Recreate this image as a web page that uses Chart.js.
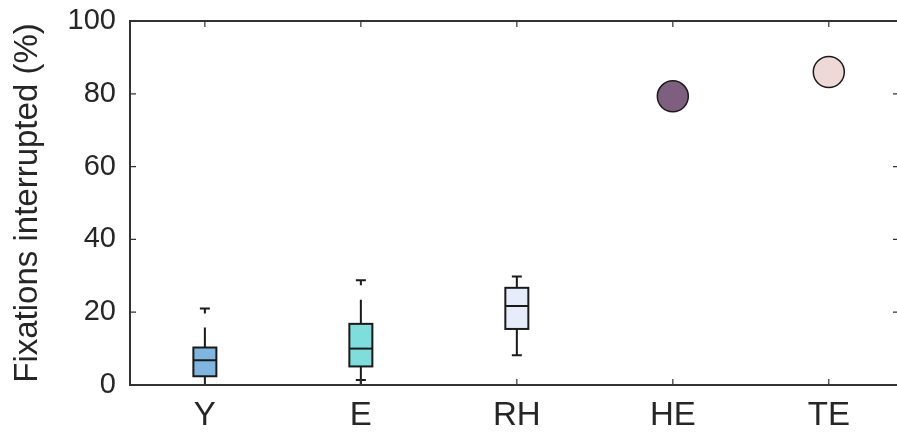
<!DOCTYPE html>
<html>
<head>
<meta charset="utf-8">
<script src="https://cdn.jsdelivr.net/npm/chart.js@4.4.1/dist/chart.umd.min.js"></script>
<style>
    html, body { margin: 0; padding: 0; overflow: hidden; background: #fff; }
    #wrap { width: 897px; height: 434px; overflow: hidden; }
    canvas { display: block; }
</style>
</head>
<body>
<div id="wrap"><canvas id="chart" width="916" height="434"></canvas></div>
<script>
// categories and their positions on the x scale
const categories = ['Y', 'E', 'RH', 'HE', 'TE'];
const positions = [1, 2, 3, 4, 5];

// box plot groups (Y, E, RH)
const boxLabels = ['Y', 'E', 'RH'];
const whiskerLow = [0, 0, 8.2];
const q1 = [2.4, 5.1, 15.4];
const median = [6.8, 10.0, 21.7];
const q3 = [10.3, 16.8, 26.7];
const whiskerHigh = [15.8, 23.4, 29.8];
const outliers = [[21.0], [28.8, 1.4], []];
const boxColors = ['#7eb6e0', '#7fdedb', '#e6ecfa'];

// single values (HE, TE)
const pointLabels = ['HE', 'TE'];
const pointValues = [79.3, 86.0];
const pointColors = ['#7f5f80', '#efd8d8'];

const yTicks = [0, 20, 40, 60, 80, 100];

const axisColor = '#333333';
const fontFamily = '"Liberation Sans", Arial, Helvetica, sans-serif';

const boxPlugin = {
    id: 'boxes',
    afterDatasetsDraw(chart) {
        const ctx = chart.ctx;
        const x = chart.scales.x;
        const y = chart.scales.y;
        const halfW = 11.5;
        ctx.save();
        ctx.strokeStyle = '#1a1a1a';
        ctx.lineWidth = 2;
        boxLabels.forEach((lab, i) => {
            const cx = x.getPixelForValue(positions[categories.indexOf(lab)]);
            const yq1 = y.getPixelForValue(q1[i]);
            const yq3 = y.getPixelForValue(q3[i]);
            const ymed = y.getPixelForValue(median[i]);
            const ylo = y.getPixelForValue(whiskerLow[i]);
            const yhi = y.getPixelForValue(whiskerHigh[i]);
            // whiskers
            ctx.beginPath();
            ctx.moveTo(cx, yq3); ctx.lineTo(cx, yhi);
            ctx.moveTo(cx, yq1); ctx.lineTo(cx, ylo);
            ctx.moveTo(cx - 5, ylo); ctx.lineTo(cx + 5, ylo);
            if (lab === 'RH') { ctx.moveTo(cx - 5, yhi); ctx.lineTo(cx + 5, yhi); }
            ctx.stroke();
            // box
            ctx.fillStyle = boxColors[i];
            ctx.fillRect(cx - halfW, yq3, halfW * 2, yq1 - yq3);
            ctx.strokeRect(cx - halfW, yq3, halfW * 2, yq1 - yq3);
            ctx.beginPath();
            ctx.moveTo(cx - halfW, ymed); ctx.lineTo(cx + halfW, ymed);
            ctx.stroke();
            // outliers
            outliers[i].forEach(v => {
                const oy = y.getPixelForValue(v);
                ctx.beginPath();
                ctx.moveTo(cx - 5, oy); ctx.lineTo(cx + 5, oy);
                ctx.moveTo(cx, oy); ctx.lineTo(cx, oy + 5);
                ctx.stroke();
            });
        });
        ctx.restore();
    },
    afterDraw(chart) {
        const ctx = chart.ctx;
        const a = chart.chartArea;
        const x = chart.scales.x;
        const y = chart.scales.y;
        ctx.save();
        ctx.strokeStyle = axisColor;
        ctx.lineWidth = 2;
        ctx.strokeRect(a.left, a.top, a.right - a.left, a.bottom - a.top);
        ctx.lineWidth = 1.2;
        ctx.beginPath();
        yTicks.forEach(v => {
            const py = y.getPixelForValue(v);
            ctx.moveTo(a.left, py); ctx.lineTo(a.left + 6, py);
            ctx.moveTo(a.right, py); ctx.lineTo(a.right - 6, py);
        });
        positions.forEach(v => {
            const px = x.getPixelForValue(v);
            ctx.moveTo(px, a.bottom); ctx.lineTo(px, a.bottom - 6);
            ctx.moveTo(px, a.top); ctx.lineTo(px, a.top + 6);
        });
        ctx.stroke();
        ctx.restore();
    }
};

const ctx = document.getElementById('chart').getContext('2d');
const chart = new Chart(ctx, {
    type: 'scatter',
    data: {
        datasets: [{
            data: pointLabels.map((lab, i) => ({ x: positions[categories.indexOf(lab)], y: pointValues[i] })),
            backgroundColor: pointColors,
            borderColor: '#1a1a1a',
            borderWidth: 1.5,
            pointRadius: 15.5,
            pointHoverRadius: 15.5
        }]
    },
    options: {
        responsive: false,
        animation: false,
        events: [],
        layout: { padding: { top: 21, right: 0, left: 8, bottom: 0 } },
        plugins: {
            legend: { display: false },
            tooltip: { enabled: false }
        },
        scales: {
            x: {
                type: 'linear',
                min: 0.52,
                max: 5.45,
                afterBuildTicks: (scale) => {
                    scale.ticks = positions.map(v => ({ value: v }));
                },
                afterFit: (scale) => {
                    scale.height = 49;
                    scale.paddingLeft = 0;
                    scale.paddingRight = 0;
                },
                grid: { display: false, drawTicks: false },
                border: { display: false },
                ticks: {
                    autoSkip: false,
                    maxRotation: 0,
                    padding: 11,
                    color: '#262626',
                    font: { family: fontFamily, size: 33 },
                    callback: (v) => categories[positions.indexOf(v)] || ''
                }
            },
            y: {
                min: 0,
                max: 100,
                afterBuildTicks: (scale) => {
                    scale.ticks = yTicks.map(v => ({ value: v }));
                },
                afterFit: (scale) => {
                    scale.width = 122;
                    scale.paddingTop = 0;
                    scale.paddingBottom = 0;
                },
                grid: { display: false, drawTicks: false },
                border: { display: false },
                ticks: {
                    padding: 14,
                    color: '#262626',
                    font: { family: fontFamily, size: 29 }
                },
                title: {
                    display: true,
                    text: 'Fixations interrupted (%)',
                    color: '#262626',
                    padding: 0,
                    font: { family: fontFamily, size: 33 }
                }
            }
        }
    },
    plugins: [boxPlugin]
});
</script>
</body>
</html>
